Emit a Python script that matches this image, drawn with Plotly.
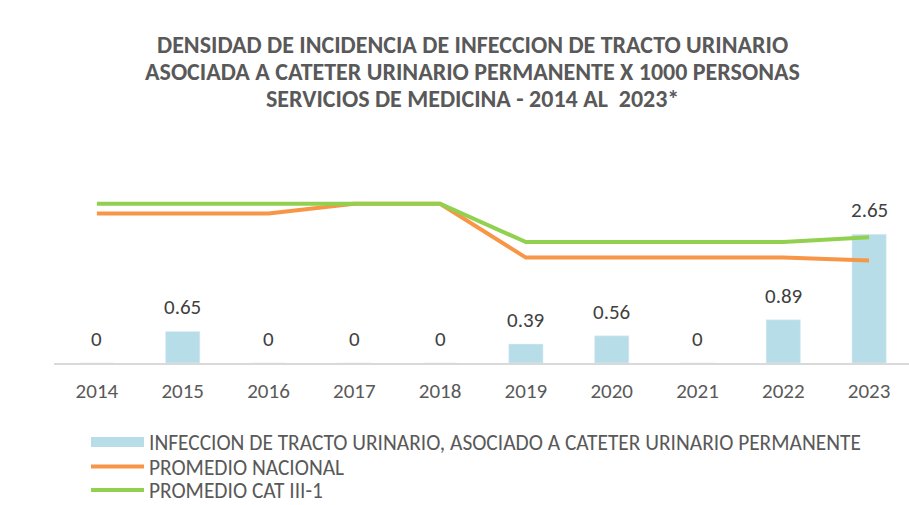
import plotly.graph_objects as go

years = ["2014", "2015", "2016", "2017", "2018", "2019", "2020", "2021", "2022", "2023"]
infeccion = [0, 0.65, 0, 0, 0, 0.39, 0.56, 0, 0.89, 2.65]
promedio_nacional = [3.08, 3.08, 3.08, 3.28, 3.28, 2.17, 2.17, 2.17, 2.17, 2.11]
promedio_cat = [3.28, 3.28, 3.28, 3.28, 3.28, 2.49, 2.49, 2.49, 2.49, 2.59]
label_texts = ["0", "0.65", "0", "0", "0", "0.39", "0.56", "0", "0.89", "2.65"]
title_lines = [
    "DENSIDAD DE INCIDENCIA DE INFECCION DE TRACTO URINARIO",
    "ASOCIADA A CATETER URINARIO PERMANENTE X 1000 PERSONAS",
    "SERVICIOS DE MEDICINA - 2014 AL  2023*",
]

name_bar = "INFECCION DE TRACTO URINARIO, ASOCIADO A CATETER URINARIO PERMANENTE"
name_nac = "PROMEDIO NACIONAL"
name_cat = "PROMEDIO CAT III-1"

c_bar = "#B7DEE8"
c_nac = "#F79646"
c_cat = "#92D050"
c_text = "#595959"
FONT = "Carlito, Calibri, Lato, sans-serif"

W, H = 909, 505
ML, MR, MT, MB = 54, 0, 193, 142
plot_h = H - MT - MB
plot_w = W - ML - MR


def py(pix):
    return (H - MB - pix) / plot_h


def px(pix):
    return (pix - ML) / plot_w


fig = go.Figure()
fig.add_trace(go.Bar(x=years, y=infeccion, marker_color=c_bar, width=0.4,
                     name=name_bar, showlegend=False))
fig.add_trace(go.Scatter(x=[None], y=[None], mode="lines", name=name_bar,
                         line=dict(color=c_bar, width=12), legend="legend"))
fig.add_trace(go.Scatter(x=years, y=promedio_nacional, mode="lines", name=name_nac,
                         line=dict(color=c_nac, width=4), legend="legend2"))
fig.add_trace(go.Scatter(x=years, y=promedio_cat, mode="lines", name=name_cat,
                         line=dict(color=c_cat, width=4), legend="legend3"))

for i, (y, t) in enumerate(zip(infeccion, label_texts)):
    fig.add_annotation(x=i, y=y, text=t, showarrow=False, yanchor="bottom",
                       yshift=9, font=dict(family=FONT, size=21, color="#404040"))

for line, ypix in zip(title_lines, [44.3, 71.5, 98.5]):
    fig.add_annotation(xref="paper", yref="paper", x=px(472), y=py(ypix), text=line,
                       showarrow=False, xanchor="center", yanchor="middle",
                       font=dict(family=FONT, size=24, color=c_text, weight="bold"))

legend_common = dict(xref="paper", yref="paper", x=px(86), xanchor="left", yanchor="middle",
                     orientation="v", itemwidth=53,
                     font=dict(family=FONT, size=21.4, color=c_text),
                     bgcolor="rgba(0,0,0,0)")

fig.update_layout(
    width=W, height=H,
    margin=dict(l=ML, r=MR, t=MT, b=MB, autoexpand=False),
    paper_bgcolor="white", plot_bgcolor="white",
    xaxis=dict(type="category", range=[-0.5, 9.465], showgrid=False, showline=True,
               linecolor="#D9D9D9", linewidth=1.5, ticks="outside", ticklen=8,
               tickcolor="rgba(0,0,0,0)",
               tickfont=dict(family=FONT, size=21, color=c_text), fixedrange=True),
    yaxis=dict(range=[0, 3.5], visible=False, fixedrange=True),
    legend=dict(y=py(442), **legend_common),
    legend2=dict(y=py(466.5), **legend_common),
    legend3=dict(y=py(490), **legend_common),
    showlegend=True,
)

fig.write_html("out.html", config={"displayModeBar": False},
               post_script="document.body.style.margin='0px';")
